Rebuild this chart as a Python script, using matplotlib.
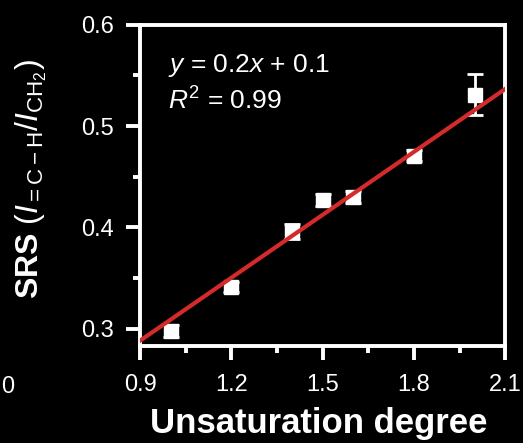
import matplotlib
matplotlib.use("Agg")
import matplotlib.pyplot as plt
import numpy as np
from matplotlib.ticker import MultipleLocator

# data
unsat_degree = [1.0, 1.2, 1.4, 1.5, 1.6, 1.8, 2.0]
srs_ratio = [0.298, 0.341, 0.396, 0.427, 0.430, 0.471, 0.531]
srs_err = [0.006, 0.005, 0.007, 0.006, 0.006, 0.005, 0.020]
fit_slope = 0.207
fit_intercept = 0.102
x_ticks = [0.9, 1.2, 1.5, 1.8, 2.1]
y_ticks = [0.3, 0.4, 0.5, 0.6]

plt.rcParams["font.family"] = ["Liberation Sans", "DejaVu Sans"]
plt.rcParams["mathtext.fontset"] = "custom"
plt.rcParams["mathtext.rm"] = "Liberation Sans"
plt.rcParams["mathtext.it"] = "Liberation Sans:italic"
plt.rcParams["mathtext.bf"] = "Liberation Sans:bold"

fig = plt.figure(figsize=(5.23, 4.43), dpi=100, facecolor="black")
ax = fig.add_axes([0.268, 0.219, 0.698, 0.725], facecolor="black")

xs = np.array(x_ticks[::len(x_ticks) - 1])
ax.plot(xs, fit_slope * xs + fit_intercept, color="#d42a2a", lw=3, zorder=3)

ax.errorbar(unsat_degree, srs_ratio, yerr=srs_err, fmt="s", color="white",
            ms=10, mec="white", ecolor="white", elinewidth=2, capsize=6,
            capthick=2, zorder=2)

ax.set_xlim(0.9, 2.1)
ax.set_ylim(0.283, 0.6)
ax.set_xticks(x_ticks)
ax.set_yticks(y_ticks)
ax.xaxis.set_minor_locator(MultipleLocator(0.15))
ax.yaxis.set_minor_locator(MultipleLocator(0.05))

for s in ax.spines.values():
    s.set_color("white")
    s.set_linewidth(2.8)
ax.tick_params(which="major", direction="out", length=10, width=2.8,
               colors="white", labelsize=17)
ax.tick_params(axis="x", which="major", pad=10)
ax.tick_params(axis="y", which="major", pad=9)
ax.tick_params(which="minor", direction="out", length=5, width=2.8,
               colors="white")

ax.set_xlabel("Unsaturation degree", color="white", fontsize=25,
              fontweight="bold")
ax.xaxis.set_label_coords(0.49, -0.19)
ax.set_ylabel(r"$\mathbf{SRS}$ $(I_{=\mathrm{C-H}}/I_{\mathrm{CH}_2})$",
              color="white", fontsize=23)
ax.yaxis.set_label_coords(-0.25, 0.52)

ax.text(0.075, 0.854, r"$y$ = 0.2$x$ + 0.1", transform=ax.transAxes,
        color="white", fontsize=19)
ax.text(0.075, 0.735, r"$R^2$ = 0.99", transform=ax.transAxes,
        color="white", fontsize=19)

# cut-off tick label of the neighbouring panel
fig.text(0.002, 0.113, "0", color="white", fontsize=17)

fig.savefig("out.png", dpi=100, facecolor="black")
